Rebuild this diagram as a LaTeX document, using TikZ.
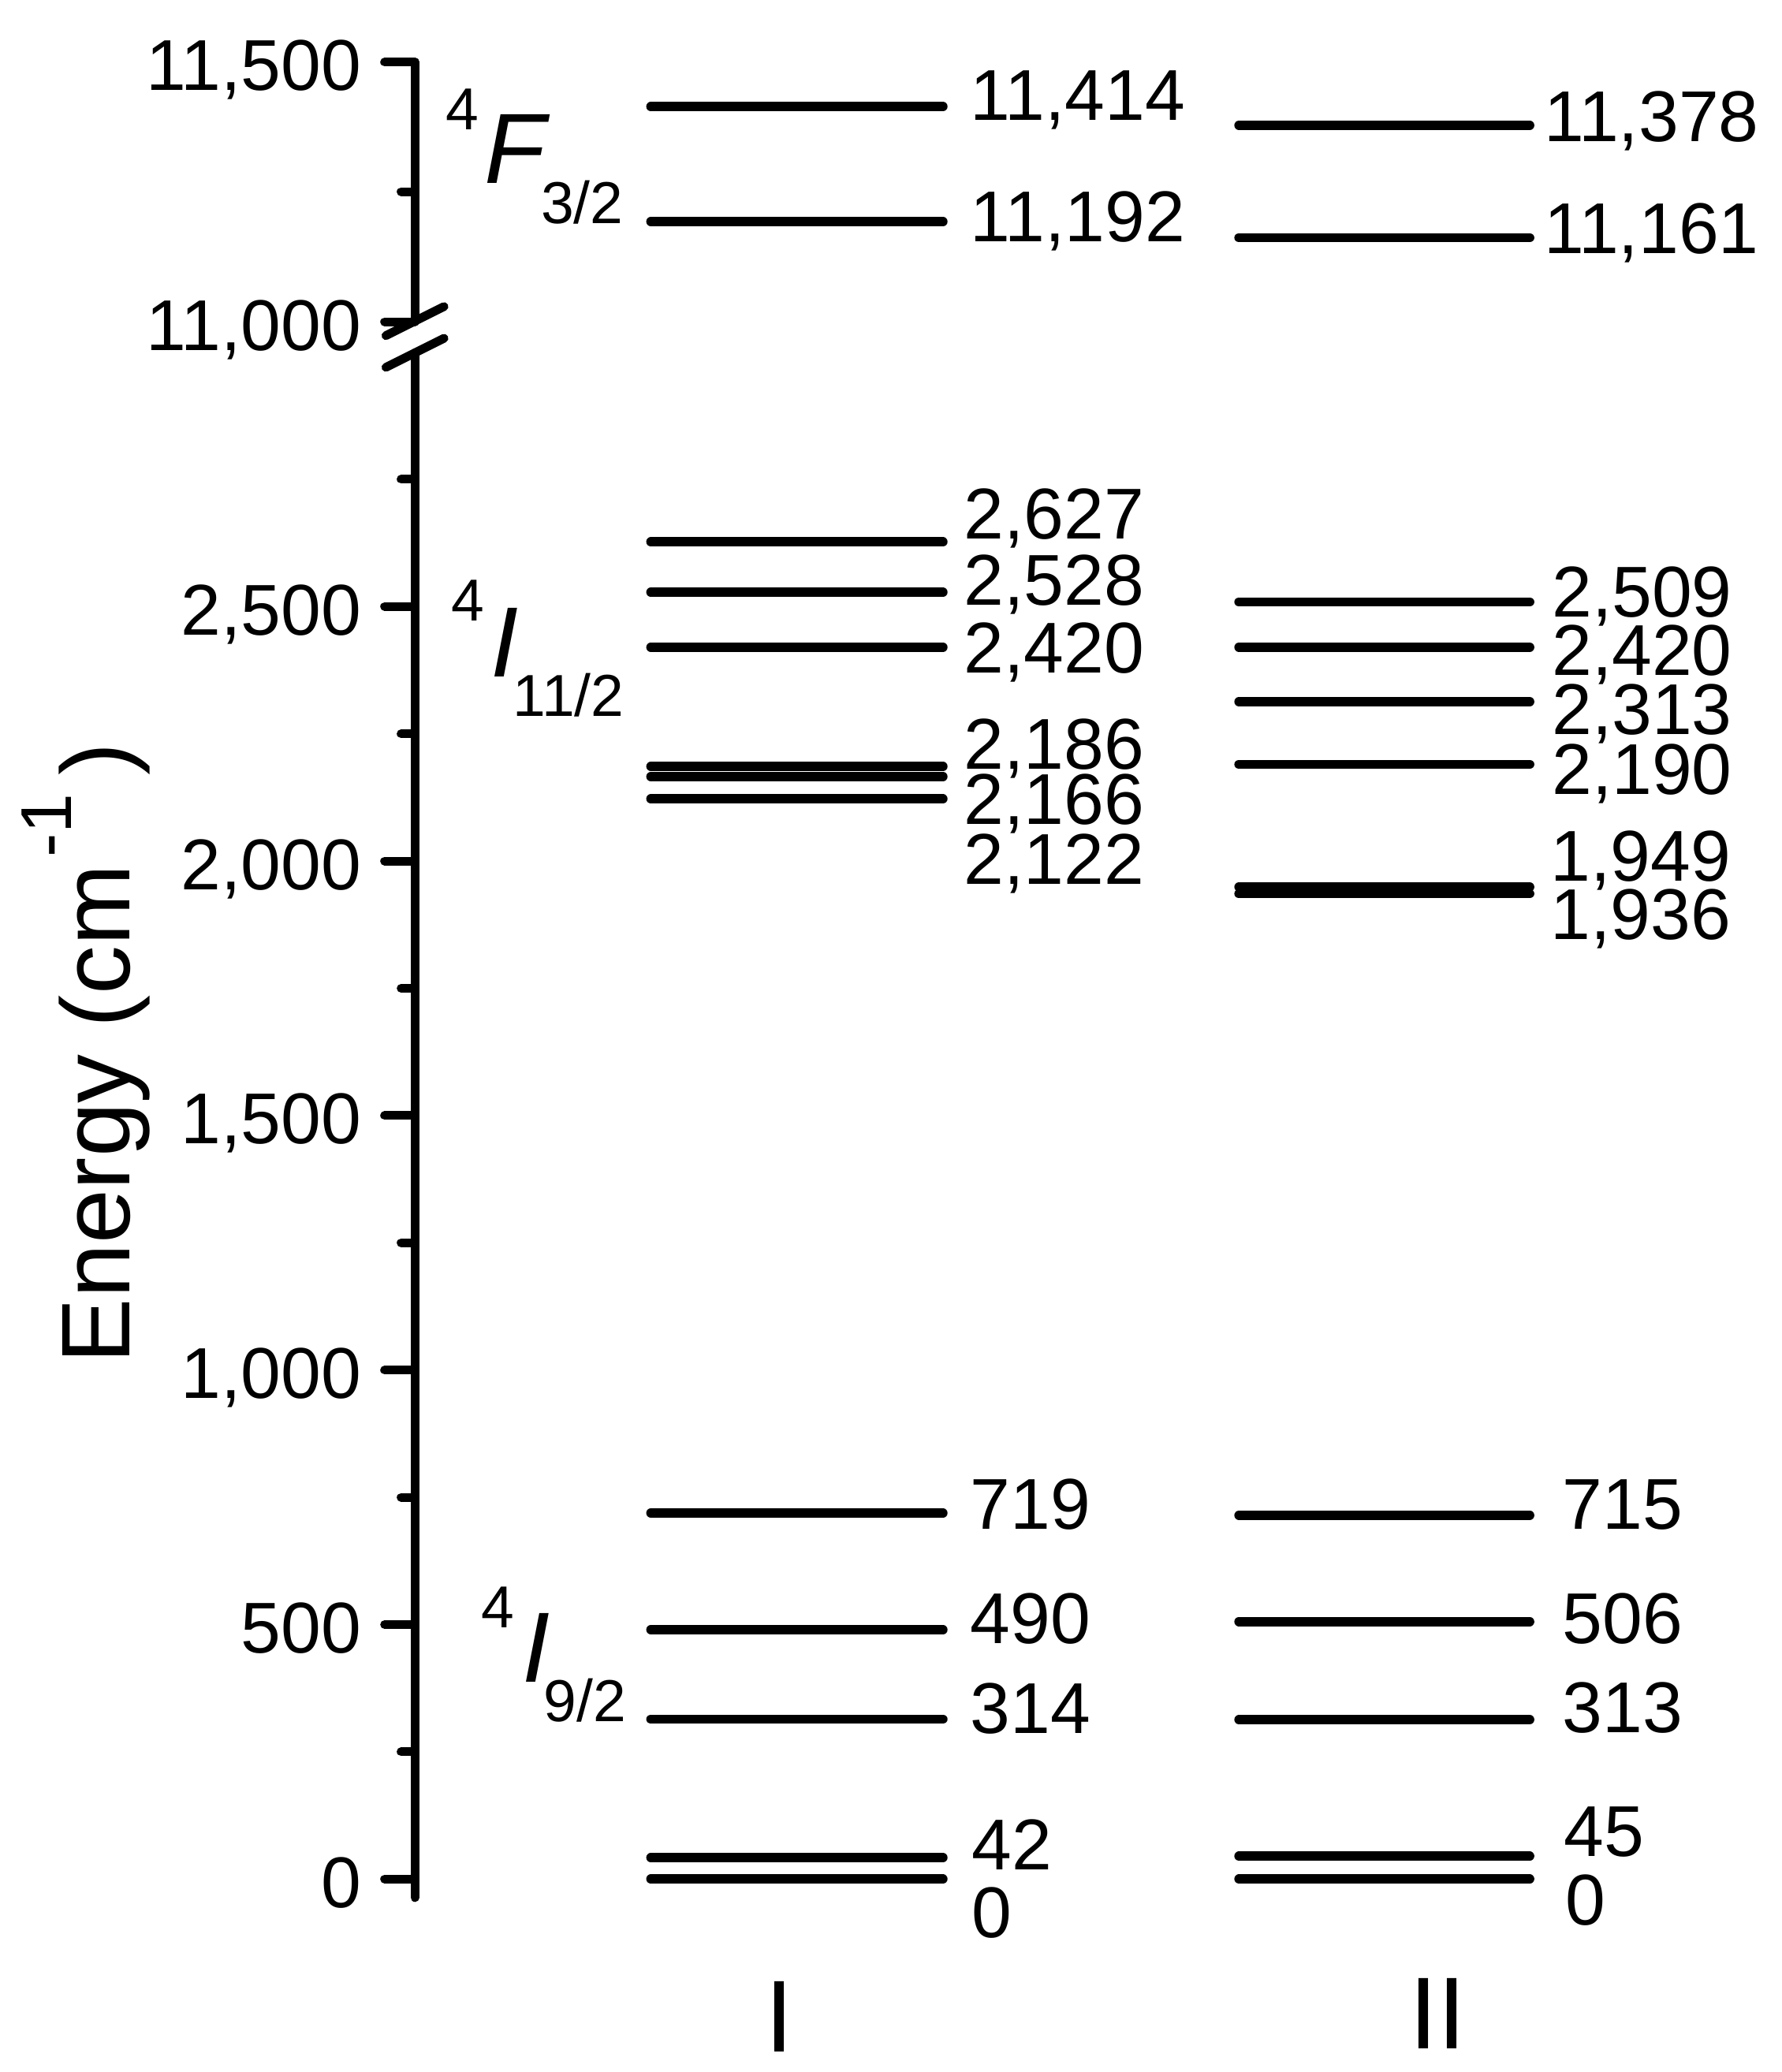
\documentclass[tikz,border=0pt]{standalone}
\usepackage{fontspec}
\setmainfont{Liberation Sans}
\begin{document}
\begin{tikzpicture}[x=0.02cm,y=-0.02cm,
  lev/.style={line width=4pt,line cap=round},
  ax/.style={line width=3.75pt,line cap=round,line join=round},
  num/.style={inner sep=0pt,anchor=base west,font=\fontsize{31}{31}\selectfont},
  tlab/.style={inner sep=0pt,anchor=base east,font=\fontsize{31}{31}\selectfont},
  term/.style={inner sep=0pt,anchor=base west,font=\fontsize{43}{43}\selectfont\itshape},
  scr/.style={inner sep=0pt,anchor=base west,font=\fontsize{25.5}{25.5}\selectfont},
  big/.style={inner sep=0pt,font=\fontsize{44}{44}\selectfont},
]
\useasboundingbox (0,0) rectangle (1348,1568);

% ---- axis ----
\coordinate (tk11500) at (291,47);
\coordinate (axtop) at (314,47);
\coordinate (axb1) at (314,243);
\coordinate (axb2) at (314,267);
\coordinate (axbot) at (314,1436);
\draw[ax] (tk11500) -- (axtop) -- (axb1);
\draw[ax] (axb2) -- (axbot);

% break marks
\coordinate (s1a) at (292,254); \coordinate (s1b) at (336,232);
\coordinate (s2a) at (292,278); \coordinate (s2b) at (336,256);
\draw[ax] (s1a) -- (s1b);
\draw[ax] (s2a) -- (s2b);

% major ticks
\foreach \y [count=\i] in {243.5,1422,1229.4,1036.8,844.2,651.6,459}
  \draw[ax] (291,\y) coordinate (mj\i) -- (314,\y);
% minor ticks
\foreach \y [count=\i] in {145,1325.7,1133.1,940.5,747.9,555.3,362.7}
  \draw[ax] (303.5,\y) coordinate (mn\i) -- (314,\y);

% tick labels
\foreach \y/\t [count=\i] in {47/{11,500},243.5/{11,000},1422/0,1229.4/500,1036.8/{1,000},844.2/{1,500},651.6/{2,000},459/{2,500}}
  \node[tlab] (tl\i) at (273.5,\y+21.5) {\t};

% ---- levels, column I ----
\foreach \y [count=\i] in {80.7,167.7,410.1,448.2,489.8,580.0,587.7,604.6,1145.0,1233.3,1301.0,1405.8,1422}
  \draw[lev] (492.5,\y) coordinate (a\i) -- (713.5,\y) coordinate (b\i);

% ---- levels, column II ----
\foreach \y [count=\i] in {94.8,179.9,455.5,489.8,531.0,578.4,671.2,676.3,1146.6,1227.1,1301.4,1404.7,1422}
  \draw[lev] (937.5,\y) coordinate (c\i) -- (1157.5,\y) coordinate (d\i);

% ---- labels, column I ----
\foreach \x/\y/\t [count=\i] in {734/91/{11,414},734/183/{11,192},729/408/{2,627},729/458/{2,528},729/509/{2,420},729/582/{2,186},729/624/{2,166},729/669/{2,122},734/1157/719,734/1244/490,734/1312/314,735/1415/42,735/1466/0}
  \node[num] (la\i) at (\x,\y) {\t};

% ---- labels, column II ----
\foreach \x/\y/\t [count=\i] in {1168/107/{11,378},1168/192/{11,161},1174/467/{2,509},1174/511/{2,420},1174/556/{2,313},1174/601/{2,190},1173/667/{1,949},1173/711/{1,936},1182/1157/715,1182/1244/506,1182/1311/313,1183/1405/45,1184/1457/0}
  \node[num] (lb\i) at (\x,\y) {\t};

% ---- term symbols ----
\node[scr] (f4) at (337,98) {4};
\node[term] (fF) at (366,139) {F};
\node[scr] (fj) at (409,169) {3/2};

\node[scr] (i4) at (341,470) {4};
\node[term] (iI) at (371,512) {I};
\node[scr] (ij) at (388,542) {11/2};

\node[scr] (g4) at (364,1232) {4};
\node[term] (gI) at (395,1273) {I};
\node[scr] (gj) at (411,1303) {9/2};

% ---- axis title ----
\node[inner sep=0pt,anchor=base west,rotate=90,font=\fontsize{42}{42}\selectfont] (ylab) at (98,1032)
  {Energy (cm\hspace{3pt}\raisebox{25pt}{\fontsize{31}{31}\selectfont -1}\hspace{8pt})};

% ---- column labels ----
\node[big] (colI) at (590,1526) {I};
\node[big] (colII) at (1088,1524) {II};
\end{tikzpicture}
\end{document}
